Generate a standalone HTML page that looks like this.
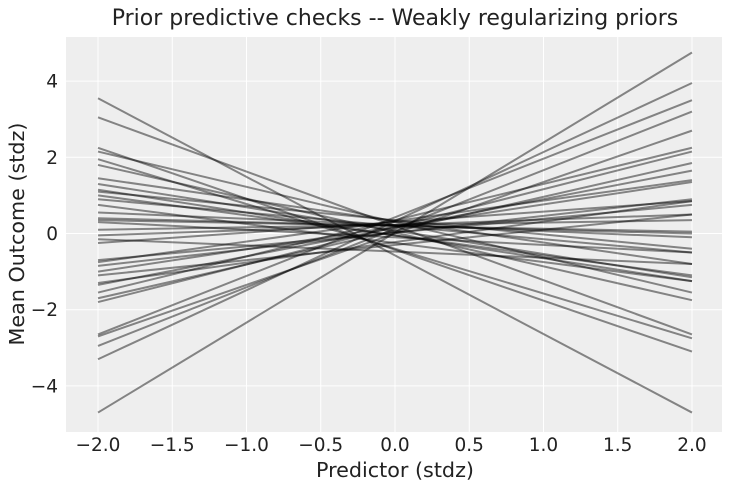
<!DOCTYPE html>
<html><head><meta charset="utf-8"><style>
body{margin:0;background:#fff;}
svg{display:block;font-family:"DejaVu Sans","Liberation Sans",sans-serif;}
</style></head><body>
<svg id="s" width="731" height="491" viewBox="0 0 731 491">
<rect x="0" y="0" width="731" height="491" fill="#fff"/>
<rect x="66" y="37" width="656" height="395" fill="#eeeeee"/>
<g id="grid" stroke="#fff" stroke-width="1"></g>
<g id="lines" stroke="#000" stroke-opacity="0.45" stroke-width="2" fill="none"></g>
<g id="labels" fill="#222" font-size="18.5"></g>
<text x="395" y="25" text-anchor="middle" font-size="22" fill="#222">Prior predictive checks -- Weakly regularizing priors</text>
<text x="395" y="477" text-anchor="middle" font-size="20.7" fill="#222">Predictor (stdz)</text>
<text transform="translate(24,234) rotate(-90)" text-anchor="middle" font-size="20.7" fill="#222">Mean Outcome (stdz)</text>
</svg>
<script>
var ns="http://www.w3.org/2000/svg";
function X(v){return 395+148.5*v;}
function Y(v){return 233.5-38.1*v;}
function el(p,t,a){var e=document.createElementNS(ns,t);for(var k in a)e.setAttribute(k,a[k]);document.getElementById(p).appendChild(e);return e;}
for(var v=-2;v<=2.001;v+=0.5){var x=X(v);el("grid","line",{x1:x,x2:x,y1:37,y2:432});
var t=el("labels","text",{x:x,y:451,"text-anchor":"middle"});t.textContent=(v<0?"\u2212":"")+Math.abs(v).toFixed(1);}
for(var v=-4;v<=4;v+=2){var y=Y(v);el("grid","line",{x1:66,x2:722,y1:y,y2:y});
var t=el("labels","text",{x:58,y:y+6.5,"text-anchor":"end"});t.textContent=(v<0?"\u2212":"")+Math.abs(v);}
var P=[[3.55,-4.7],[3.05,-2.65],[2.25,-3.1],[2.15,-1.55],[1.95,-2.75],[1.8,-1.75],[1.45,-0.8],[1.3,-1.15],[1.15,-1.25],[1.1,-0.4],[1.0,-1.1],[0.9,-0.5],[0.75,-1.25],[0.55,-0.1],[0.4,0.0],[0.35,0.05],[0.3,-0.5],[0.1,0.35],[-0.05,0.5],[-0.15,-0.8],[-0.25,0.85],[-0.7,0.75],[-0.75,1.4],[-0.85,0.9],[-1.0,1.35],[-1.1,0.5],[-1.3,0.85],[-1.35,1.65],[-1.55,2.25],[-1.7,1.85],[-1.8,2.15],[-2.65,3.5],[-2.7,2.7],[-2.95,3.2],[-3.3,3.95],[-4.7,4.75]];
P.forEach(function(p){el("lines","line",{x1:X(-2),y1:Y(p[0]),x2:X(2),y2:Y(p[1])});});
</script>
</body></html>
